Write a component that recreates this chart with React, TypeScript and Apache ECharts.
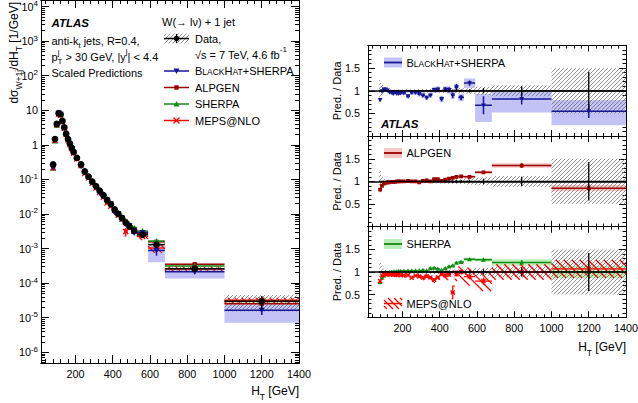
import React, { useEffect, useRef } from 'react';
import * as echarts from 'echarts';

const FONT = '"Liberation Sans", Arial, Helvetica, sans-serif';

// ---------------- data ----------------
const binEdges = [75, 85, 95, 105, 115, 125, 135, 145, 155, 165, 175, 185, 195, 220, 240, 260, 280, 300, 320, 340, 360, 380, 400, 420, 440, 460, 480, 500, 530, 590, 680, 1000, 1400];
const htCenters = [80, 90, 100, 110, 120, 130, 140, 150, 160, 170, 180, 190, 207.5, 230, 250, 270, 290, 310, 330, 350, 370, 390, 410, 430, 450, 470, 490, 515, 560, 635, 840, 1200];
const dataXsec = [0.27, 1.47, 4.0, 8.2, 7.6, 4.9, 3.2, 2.1, 1.47, 1.1, 0.82, 0.62, 0.42, 0.27, 0.17, 0.12, 0.086, 0.064, 0.047, 0.035, 0.025, 0.019, 0.0135, 0.010, 0.0075, 0.0056, 0.0043, 0.0033, 0.0025, 0.0013, 0.00026, 0.00003];
const dataStatRel = [0.006, 0.004, 0.003, 0.003, 0.003, 0.003, 0.003, 0.003, 0.004, 0.004, 0.004, 0.005, 0.005, 0.006, 0.007, 0.008, 0.010, 0.011, 0.012, 0.014, 0.016, 0.018, 0.020, 0.022, 0.025, 0.028, 0.030, 0.030, 0.035, 0.06, 0.10, 0.42];
const dataTotRel = [0.24, 0.14, 0.08, 0.05, 0.04, 0.035, 0.03, 0.03, 0.03, 0.03, 0.03, 0.03, 0.03, 0.035, 0.035, 0.035, 0.04, 0.04, 0.04, 0.04, 0.045, 0.045, 0.05, 0.05, 0.055, 0.055, 0.06, 0.06, 0.07, 0.09, 0.12, 0.5];

const bhRatio = [0.80, 0.99, 1.03, 1.03, 1.01, 0.97, 0.96, 0.94, 0.96, 0.94, 0.94, 0.95, 0.95, 0.88, 0.96, 0.96, 0.93, 0.90, 0.85, 0.90, 1.02, 1.03, 0.82, 1.03, 1.02, 0.90, 1.08, 0.85, 1.17, 0.68, 0.82, 0.55];
const bhStat = [0.03, 0.01, 0.01, 0.01, 0.01, 0.01, 0.01, 0.01, 0.01, 0.01, 0.01, 0.01, 0.015, 0.02, 0.02, 0.02, 0.025, 0.03, 0.035, 0.035, 0.04, 0.045, 0.05, 0.05, 0.06, 0.06, 0.07, 0.06, 0.06, 0.2, 0.12, 0.15];
const bhBandUp = [0.04, 0.04, 0.04, 0.04, 0.04, 0.04, 0.04, 0.04, 0.04, 0.04, 0.04, 0.04, 0.045, 0.05, 0.05, 0.05, 0.055, 0.06, 0.06, 0.06, 0.07, 0.07, 0.07, 0.07, 0.08, 0.08, 0.08, 0.08, 0.1, 0.25, 0.16, 0.24];
const bhBandDn = [0.04, 0.04, 0.04, 0.04, 0.04, 0.04, 0.04, 0.04, 0.04, 0.04, 0.04, 0.04, 0.045, 0.05, 0.05, 0.05, 0.055, 0.06, 0.06, 0.06, 0.07, 0.07, 0.07, 0.07, 0.08, 0.08, 0.08, 0.08, 0.1, 0.37, 0.30, 0.31];

const alpRatio = [0.82, 0.90, 0.95, 0.97, 0.98, 0.98, 0.99, 0.99, 0.99, 1.0, 1.0, 1.0, 1.0, 1.01, 1.0, 1.0, 0.98, 1.01, 1.02, 1.0, 1.05, 1.05, 1.01, 1.04, 1.06, 1.08, 1.1, 1.11, 1.1, 1.2, 1.35, 0.85];
const alpStat = [0.02, 0.01, 0.01, 0.01, 0.01, 0.01, 0.01, 0.01, 0.01, 0.01, 0.01, 0.01, 0.01, 0.01, 0.01, 0.01, 0.012, 0.015, 0.015, 0.015, 0.015, 0.02, 0.02, 0.02, 0.02, 0.02, 0.02, 0.02, 0.025, 0.03, 0.05, 0.08];
const alpBand = [0.02, 0.02, 0.02, 0.02, 0.02, 0.02, 0.02, 0.02, 0.02, 0.02, 0.02, 0.02, 0.02, 0.02, 0.02, 0.02, 0.02, 0.02, 0.025, 0.025, 0.025, 0.025, 0.025, 0.03, 0.03, 0.03, 0.03, 0.03, 0.03, 0.035, 0.05, 0.07];

const shRatio = [0.78, 0.87, 0.92, 0.96, 0.98, 0.99, 1.0, 1.0, 1.01, 1.01, 1.02, 1.02, 1.02, 1.03, 1.03, 1.03, 1.03, 1.04, 1.03, 1.08, 1.09, 1.07, 1.04, 1.08, 1.12, 1.14, 1.2, 1.22, 1.28, 1.27, 1.21, 1.0];
const shStat = [0.02, 0.01, 0.01, 0.01, 0.01, 0.01, 0.01, 0.01, 0.01, 0.01, 0.01, 0.01, 0.01, 0.01, 0.012, 0.012, 0.015, 0.015, 0.015, 0.018, 0.018, 0.02, 0.02, 0.02, 0.025, 0.025, 0.025, 0.03, 0.03, 0.03, 0.05, 0.1];
const shBand = [0.02, 0.02, 0.02, 0.02, 0.02, 0.02, 0.02, 0.02, 0.02, 0.02, 0.02, 0.02, 0.02, 0.02, 0.02, 0.02, 0.02, 0.02, 0.025, 0.025, 0.025, 0.025, 0.025, 0.025, 0.03, 0.03, 0.03, 0.035, 0.04, 0.04, 0.07, 0.13];

const mepsRatio = [0.80, 0.92, 0.95, 0.95, 0.95, 0.95, 0.95, 0.94, 0.95, 0.94, 0.95, 0.93, 0.93, 0.93, 0.87, 0.92, 0.90, 0.88, 0.90, 0.88, 0.83, 0.88, 0.95, 0.93, 0.94, 0.55, 0.95, 1.0, 0.9, 0.8, 1.0, 1.07];
const mepsStat = [0.03, 0.015, 0.015, 0.015, 0.015, 0.015, 0.015, 0.015, 0.015, 0.015, 0.015, 0.015, 0.015, 0.02, 0.02, 0.02, 0.025, 0.025, 0.03, 0.03, 0.03, 0.035, 0.04, 0.04, 0.045, 0.15, 0.05, 0.05, 0.06, 0.08, 0.1, 0.15];
const mepsBand = [0.05, 0.05, 0.05, 0.05, 0.05, 0.05, 0.05, 0.05, 0.05, 0.05, 0.05, 0.05, 0.05, 0.05, 0.05, 0.055, 0.06, 0.06, 0.06, 0.07, 0.07, 0.08, 0.1, 0.1, 0.12, 0.15, 0.15, 0.18, 0.2, 0.22, 0.17, 0.2];

const xTickLabels = [200, 400, 600, 800, 1000, 1200, 1400];
const logDecadeTicks = [-6, -5, -4, -3, -2, -1, 0, 1, 2, 3, 4];
const ratioTickLabels = [0.5, 1, 1.5];

// ---------------- styling constants ----------------
const X_MIN = 15, X_MAX = 1400;
const Y_MIN = -6.31, Y_MAX = 4.19;
const BH = '#161696', BH_BAND = '#c2c2f6';
const ALP = '#9c0000', ALP_BAND = '#f6c6c6';
const SH = '#148c14', SH_BAND = '#b9efb9';
const MEPS = '#ff0000';
const HATCH = '#666666';

const xMinorTicks: number[] = [];
for (let v = 40; v < X_MAX; v += 40) if (v % 200 !== 0) xMinorTicks.push(v);
const logMinorTicks: number[] = [];
for (let d = -7; d <= 4; d++) for (let k = 2; k <= 9; k++) {
  const v = d + Math.log10(k);
  if (v > Y_MIN && v < Y_MAX) logMinorTicks.push(v);
}

const L10 = Math.log10;
const ones = htCenters.map(() => 1);
const lo = (i: number) => binEdges[i];
const hi = (i: number) => binEdges[i + 1];

const ratioPoints = (r: number[], e: number[]) => htCenters.map((c, i) => [c, lo(i), hi(i), r[i], r[i] - e[i], r[i] + e[i]]);
const ratioBand = (r: number[], up: number[], dn: number[]) => htCenters.map((c, i) => [lo(i), hi(i), r[i] - dn[i], r[i] + up[i]]);
const xsecPoints = (r: number[], e: number[]) => htCenters.map((c, i) => {
  const d = dataXsec[i];
  return [c, lo(i), hi(i), L10(d * r[i]), L10(d * (r[i] - e[i])), L10(d * (r[i] + e[i]))];
});
const xsecBand = (r: number[], up: number[], dn: number[]) => htCenters.map((c, i) => {
  const d = dataXsec[i];
  return [lo(i), hi(i), L10(d * (r[i] - dn[i])), L10(d * (r[i] + up[i]))];
});

function hatchLines(x0: number, y0: number, x1: number, y1: number, step: number, dir: number, stroke: string, lw: number) {
  const ax0 = Math.min(x0, x1), ax1 = Math.max(x0, x1), ay0 = Math.min(y0, y1), ay1 = Math.max(y0, y1);
  const out: any[] = [];
  const style = { stroke, lineWidth: lw };
  if (dir > 0) {
    for (let c = Math.ceil((ax0 + ay0) / step) * step; c <= ax1 + ay1; c += step) {
      const a = Math.max(ax0, c - ay1), b = Math.min(ax1, c - ay0);
      if (b > a) out.push({ type: 'line', shape: { x1: a, y1: c - a, x2: b, y2: c - b }, style });
    }
  } else {
    for (let c = Math.ceil((ax0 - ay1) / step) * step; c <= ax1 - ay0; c += step) {
      const a = Math.max(ax0, c + ay0), b = Math.min(ax1, c + ay1);
      if (b > a) out.push({ type: 'line', shape: { x1: a, y1: a - c, x2: b, y2: b - c }, style });
    }
  }
  return out;
}

function markerShape(kind: string, x: number, y: number, s: number, color: string): any {
  switch (kind) {
    case 'itri': return { type: 'polygon', shape: { points: [[x - s, y - s * 0.8], [x + s, y - s * 0.8], [x, y + s]] }, style: { fill: color } };
    case 'tri': return { type: 'polygon', shape: { points: [[x - s, y + s * 0.8], [x + s, y + s * 0.8], [x, y - s]] }, style: { fill: color } };
    case 'sq': return { type: 'rect', shape: { x: x - s * 0.85, y: y - s * 0.85, width: s * 1.7, height: s * 1.7 }, style: { fill: color } };
    case 'x': return {
      type: 'group', children: [
        { type: 'line', shape: { x1: x - s, y1: y - s, x2: x + s, y2: y + s }, style: { stroke: color, lineWidth: 1.3 } },
        { type: 'line', shape: { x1: x - s, y1: y + s, x2: x + s, y2: y - s }, style: { stroke: color, lineWidth: 1.3 } },
      ],
    };
    case 'dot': return { type: 'circle', shape: { cx: x, cy: y, r: s }, style: { fill: color } };
    default: return { type: 'group', children: [] };
  }
}

const base = (xi: number, yi: number, z: number) => ({ type: 'custom', xAxisIndex: xi, yAxisIndex: yi, clip: true, silent: true, z });

function bandSeries(xi: number, yi: number, items: number[][], fill: string) {
  return {
    ...base(xi, yi, 2), data: items,
    renderItem: (_p: any, api: any) => {
      const a = api.coord([api.value(0), api.value(3)]);
      const b = api.coord([api.value(1), api.value(2)]);
      return { type: 'rect', shape: { x: a[0], y: a[1], width: b[0] - a[0], height: b[1] - a[1] }, style: { fill } };
    },
  };
}

function hatchSeries(xi: number, yi: number, items: number[][], color: string, step: number, dir: number, lw: number) {
  return {
    ...base(xi, yi, 2), data: items,
    renderItem: (_p: any, api: any) => {
      const a = api.coord([api.value(0), api.value(3)]);
      const b = api.coord([api.value(1), api.value(2)]);
      return { type: 'group', children: hatchLines(a[0], a[1], b[0], b[1], step, dir, color, lw) };
    },
  };
}

function pointsSeries(xi: number, yi: number, items: number[][], color: string, marker: string, size: number, lw: number) {
  return {
    ...base(xi, yi, 4), data: items,
    renderItem: (_p: any, api: any) => {
      const c = api.value(0), l = api.value(1), h = api.value(2), v = api.value(3), el = api.value(4), eh = api.value(5);
      const pL = api.coord([l, v]), pR = api.coord([h, v]), pC = api.coord([c, v]);
      const pD = api.coord([c, el]), pU = api.coord([c, eh]);
      const st = { stroke: color, lineWidth: lw };
      return {
        type: 'group', children: [
          { type: 'line', shape: { x1: pL[0], y1: pL[1], x2: pR[0], y2: pR[1] }, style: st },
          { type: 'line', shape: { x1: pD[0], y1: pD[1], x2: pU[0], y2: pU[1] }, style: st },
          markerShape(marker, pC[0], pC[1], size, color),
        ],
      };
    },
  };
}

// ---------------- axes ----------------
const axisLineBlack = { show: true, onZero: false, lineStyle: { color: '#000', width: 1 } };
const tickStyle = { color: '#000', width: 1 };
const labelBase = { color: '#000', fontSize: 10.8, fontFamily: FONT };

function xAxesFor(g: number, labels: boolean, maj: number, mnr: number) {
  const b = { type: 'value', gridIndex: g, min: X_MIN, max: X_MAX, splitLine: { show: false }, axisLine: axisLineBlack };
  return [
    { ...b, position: 'bottom', axisTick: { show: true, inside: true, length: maj, customValues: xTickLabels, lineStyle: tickStyle }, axisLabel: { show: labels, customValues: xTickLabels, margin: 5, formatter: (v: number) => String(v), ...labelBase } },
    { ...b, position: 'bottom', axisTick: { show: true, inside: true, length: mnr, customValues: xMinorTicks, lineStyle: tickStyle }, axisLabel: { show: false } },
    { ...b, position: 'top', axisTick: { show: true, inside: true, length: maj, customValues: xTickLabels, lineStyle: tickStyle }, axisLabel: { show: false } },
    { ...b, position: 'top', axisTick: { show: true, inside: true, length: mnr, customValues: xMinorTicks, lineStyle: tickStyle }, axisLabel: { show: false } },
  ];
}

function logYAxes() {
  const b = { type: 'value', gridIndex: 0, min: Y_MIN, max: Y_MAX, splitLine: { show: false }, axisLine: axisLineBlack };
  const fmt = (v: number) => {
    const n = Math.round(v);
    if (n === 0) return '{b|1}';
    if (n === 1) return '{b|10}';
    return `{b|10}{s|${n}}`;
  };
  return [
    {
      ...b, position: 'left', axisTick: { show: true, inside: true, length: 8, customValues: logDecadeTicks, lineStyle: tickStyle },
      axisLabel: {
        customValues: logDecadeTicks, formatter: fmt, margin: 3, ...labelBase,
        rich: {
          b: { fontSize: 10.8, fontFamily: FONT, color: '#000', lineHeight: 14 },
          s: { fontSize: 8, fontFamily: FONT, color: '#000', lineHeight: 8, verticalAlign: 'top' },
        },
      },
    },
    { ...b, position: 'left', axisTick: { show: true, inside: true, length: 4, customValues: logMinorTicks, lineStyle: tickStyle }, axisLabel: { show: false } },
    { ...b, position: 'right', axisTick: { show: true, inside: true, length: 8, customValues: logDecadeTicks, lineStyle: tickStyle }, axisLabel: { show: false } },
    { ...b, position: 'right', axisTick: { show: true, inside: true, length: 4, customValues: logMinorTicks, lineStyle: tickStyle }, axisLabel: { show: false } },
  ];
}

function ratioYAxes(g: number) {
  const b = {
    type: 'value', gridIndex: g, min: 0, max: 2, interval: 0.5, splitLine: { show: false }, axisLine: axisLineBlack,
    axisTick: { show: true, inside: true, length: 7, lineStyle: tickStyle },
    minorTick: { show: true, splitNumber: 5, length: 3.5, lineStyle: tickStyle },
  };
  return [
    { ...b, position: 'left', axisLabel: { customValues: ratioTickLabels, margin: 8, ...labelBase, formatter: (v: number) => String(v) } },
    { ...b, position: 'right', axisLabel: { show: false } },
  ];
}

// ---------------- graphic text helpers ----------------
const RICH = {
  n: { fontSize: 11, fontFamily: FONT, color: '#000', lineHeight: 18 },
  sub: { fontSize: 8, fontFamily: FONT, color: '#000', lineHeight: 9, verticalAlign: 'bottom' },
  sup: { fontSize: 8, fontFamily: FONT, color: '#000', lineHeight: 9, verticalAlign: 'top' },
  sc: { fontSize: 8.5, fontFamily: FONT, color: '#000', lineHeight: 8.5, verticalAlign: 'bottom' },
  big: { fontSize: 11, fontFamily: FONT, color: '#000', lineHeight: 11, verticalAlign: 'bottom' },
  t: { fontSize: 12, fontFamily: FONT, color: '#000', lineHeight: 20 },
  ts: { fontSize: 8.5, fontFamily: FONT, color: '#000', lineHeight: 9, verticalAlign: 'bottom' },
};

function txt(x: number, y: number, text: string, align = 'left', extra: any = {}, rotation = 0) {
  return {
    type: 'text', x, y, rotation, silent: true, z: 10,
    style: { text, rich: RICH, fill: '#000', fontSize: 11, fontFamily: FONT, align, verticalAlign: 'middle', ...extra },
  };
}
function gline(x1: number, y1: number, x2: number, y2: number, stroke: string, lw = 1.5) {
  return { type: 'line', silent: true, z: 10, shape: { x1, y1, x2, y2 }, style: { stroke, lineWidth: lw } };
}
function grect(x: number, y: number, w: number, h: number, fill: string) {
  return { type: 'rect', silent: true, z: 10, shape: { x, y, width: w, height: h }, style: { fill } };
}
function gmark(kind: string, x: number, y: number, s: number, color: string) {
  const m = markerShape(kind, x, y, s, color);
  return { ...m, silent: true, z: 10 };
}

function buildOption() {
  const grids = [
    { left: 41, top: 0, width: 258, height: 363 },
    { left: 368, top: 45.5, width: 258, height: 90.6 },
    { left: 368, top: 136.1, width: 258, height: 90.6 },
    { left: 368, top: 226.7, width: 258, height: 90.6 },
  ].map((g) => ({ ...g, containLabel: false, outerBoundsMode: 'none', show: false }));

  const xAxis = [
    ...xAxesFor(0, true, 8, 4),
    ...xAxesFor(1, false, 6, 3),
    ...xAxesFor(2, false, 6, 3),
    ...xAxesFor(3, true, 6, 3),
  ];
  const yAxis = [...logYAxes(), ...ratioYAxes(1), ...ratioYAxes(2), ...ratioYAxes(3)];

  const series: any[] = [];
  // ---- main spectrum panel ----
  series.push(bandSeries(0, 0, xsecBand(bhRatio, bhBandUp, bhBandDn), BH_BAND));
  series.push(bandSeries(0, 0, xsecBand(alpRatio, alpBand, alpBand), ALP_BAND));
  series.push(bandSeries(0, 0, xsecBand(shRatio, shBand, shBand), SH_BAND));
  series.push(hatchSeries(0, 0, xsecBand(ones, dataTotRel, dataTotRel), HATCH, 4, 1, 0.7));
  series.push(hatchSeries(0, 0, xsecBand(mepsRatio, mepsBand, mepsBand), MEPS, 7, -1, 1.1));
  series.push(pointsSeries(0, 0, xsecPoints(alpRatio, alpStat), ALP, 'sq', 2.6, 1.5));
  series.push(pointsSeries(0, 0, xsecPoints(shRatio, shStat), SH, 'tri', 3, 1.5));
  series.push(pointsSeries(0, 0, xsecPoints(mepsRatio, mepsStat), MEPS, 'x', 2.6, 1.3));
  series.push(pointsSeries(0, 0, xsecPoints(bhRatio, bhStat), BH, 'itri', 3, 1.5));
  series.push(pointsSeries(0, 0, xsecPoints(ones, dataStatRel), '#000', 'dot', 3.4, 1.5));

  const unity = (xi: number, yi: number) => ({
    ...base(xi, yi, 3), data: [], renderItem: () => null,
    markLine: { silent: true, symbol: 'none', z: 3, label: { show: false }, lineStyle: { color: '#000', width: 1.5, type: 'solid' }, data: [{ yAxis: 1 }] },
  });

  // ---- ratio panel 1 : BlackHat+Sherpa ----
  series.push(bandSeries(4, 4, ratioBand(bhRatio, bhBandUp, bhBandDn), BH_BAND));
  series.push(hatchSeries(4, 4, ratioBand(ones, dataTotRel, dataTotRel), HATCH, 4, 1, 0.7));
  series.push(unity(4, 4));
  series.push(pointsSeries(4, 4, ratioPoints(bhRatio, bhStat), BH, 'itri', 2.4, 1.5));
  series.push(pointsSeries(4, 4, ratioPoints(ones, dataStatRel), '#000', 'none', 0, 1.3));

  // ---- ratio panel 2 : ALPGEN ----
  series.push(bandSeries(8, 6, ratioBand(alpRatio, alpBand, alpBand), ALP_BAND));
  series.push(hatchSeries(8, 6, ratioBand(ones, dataTotRel, dataTotRel), HATCH, 4, 1, 0.7));
  series.push(unity(8, 6));
  series.push(pointsSeries(8, 6, ratioPoints(alpRatio, alpStat), ALP, 'sq', 2.2, 1.5));
  series.push(pointsSeries(8, 6, ratioPoints(ones, dataStatRel), '#000', 'none', 0, 1.3));

  // ---- ratio panel 3 : SHERPA + MEPS@NLO ----
  series.push(bandSeries(12, 8, ratioBand(shRatio, shBand, shBand), SH_BAND));
  series.push(hatchSeries(12, 8, ratioBand(ones, dataTotRel, dataTotRel), HATCH, 4, 1, 0.7));
  series.push(hatchSeries(12, 8, ratioBand(mepsRatio, mepsBand, mepsBand), MEPS, 8, -1, 1.3));
  series.push(unity(12, 8));
  series.push(pointsSeries(12, 8, ratioPoints(shRatio, shStat), SH, 'tri', 2.4, 1.5));
  series.push(pointsSeries(12, 8, ratioPoints(mepsRatio, mepsStat), MEPS, 'x', 2, 1.3));
  series.push(pointsSeries(12, 8, ratioPoints(ones, dataStatRel), '#000', 'none', 0, 1.3));

  // ---- graphic: texts and legends ----
  const g: any[] = [];
  g.push(txt(51.5, 22.5, 'ATLAS', 'left', { fontStyle: 'italic', fontWeight: 'bold', fontSize: 11.5, rich: undefined }));
  g.push(txt(51.5, 40.5, '{n|anti-k}{sub|t}{n| jets, R=0.4,}'));
  g.push(txt(51.5, 56.5, '{n|p}{sub|T}{n| > 30 GeV, |y}{sup|j}{n|| < 4.4}'));
  g.push(txt(57.8, 52, 'j', 'left', { fontSize: 8, rich: undefined }));
  g.push(txt(51.5, 72.5, 'Scaled Predictions'));
  g.push(txt(162, 21.5, 'W(\u2192 l\u03bd) + 1 jet'));
  // data legend
  g.push({ type: 'group', silent: true, z: 10, children: hatchLines(164, 33.5, 189, 43.5, 4, 1, HATCH, 0.7) });
  g.push(gline(164, 38.5, 189, 38.5, '#000', 1.5));
  g.push(gline(176.5, 34, 176.5, 43, '#000', 1.2));
  g.push(gmark('dot', 176.5, 38.5, 2.8, '#000'));
  g.push(txt(195, 38.5, 'Data,'));
  g.push(txt(195, 54.5, '{n|\u221as = 7 TeV, 4.6 fb}{sup|-1}'));
  const leg = [
    { y: 71, c: BH, m: 'itri', t: '{big|B}{sc|LACK}{big|H}{sc|AT}{big|+SHERPA}' },
    { y: 87.5, c: ALP, m: 'sq', t: 'ALPGEN' },
    { y: 104, c: SH, m: 'tri', t: 'SHERPA' },
    { y: 120.5, c: MEPS, m: 'x', t: 'MEPS@NLO' },
  ];
  leg.forEach((l) => {
    g.push(gline(164, l.y, 189, l.y, l.c, 1.5));
    g.push(gmark(l.m, 176.5, l.y, l.m === 'sq' ? 2.6 : 3, l.c));
    g.push(txt(195, l.y, l.t));
  });
  g.push(txt(299, 391, '{t|H}{ts|T}{t| [GeV]}', 'right'));
  g.push(txt(13.5, 2, '{t|d\u03c3}{ts|W+1j}{t|/dH}{ts|T}{t| [1/GeV]}', 'right', {}, Math.PI / 2));

  const panelTops = [45.5, 136.1, 226.7];
  panelTops.forEach((t) => g.push(txt(336.7, t + 45.3, 'Pred. / Data', 'center', {}, Math.PI / 2)));
  g.push(txt(626, 347, '{t|H}{ts|T}{t| [GeV]}', 'right'));
  g.push(grect(384, 57.5, 18, 10, BH_BAND));
  g.push(gline(384, 62.5, 402, 62.5, BH, 1.8));
  g.push(txt(406.5, 62.5, '{big|B}{sc|LACK}{big|H}{sc|AT}{big|+SHERPA}'));
  g.push(txt(381, 124.3, 'ATLAS', 'left', { fontStyle: 'italic', fontWeight: 'bold', fontSize: 11.5, rich: undefined }));
  g.push(grect(384, 148, 18, 10, ALP_BAND));
  g.push(gline(384, 153, 402, 153, ALP, 1.8));
  g.push(txt(406.5, 153, 'ALPGEN'));
  g.push(grect(384, 239, 18, 10, SH_BAND));
  g.push(gline(384, 244, 402, 244, SH, 1.8));
  g.push(txt(406.5, 244, 'SHERPA'));
  g.push({ type: 'group', silent: true, z: 10, children: hatchLines(384, 298, 402, 309, 6, -1, MEPS, 1.3) });
  g.push(gline(384, 303.5, 402, 303.5, MEPS, 1.5));
  g.push(txt(406.5, 303.5, 'MEPS@NLO'));

  return {
    animation: false,
    backgroundColor: '#ffffff',
    grid: grids,
    xAxis,
    yAxis,
    series,
    graphic: { elements: g },
  };
}

export default function App() {
  const ref = useRef<HTMLDivElement>(null);
  useEffect(() => {
    const chart = echarts.init(ref.current as HTMLDivElement, null, { renderer: 'svg' });
    chart.setOption(buildOption() as any);
    return () => chart.dispose();
  }, []);
  return <div ref={ref} style={{ position: 'absolute', left: 0, top: 0, width: 638, height: 403, background: '#fff' }} />;
}
